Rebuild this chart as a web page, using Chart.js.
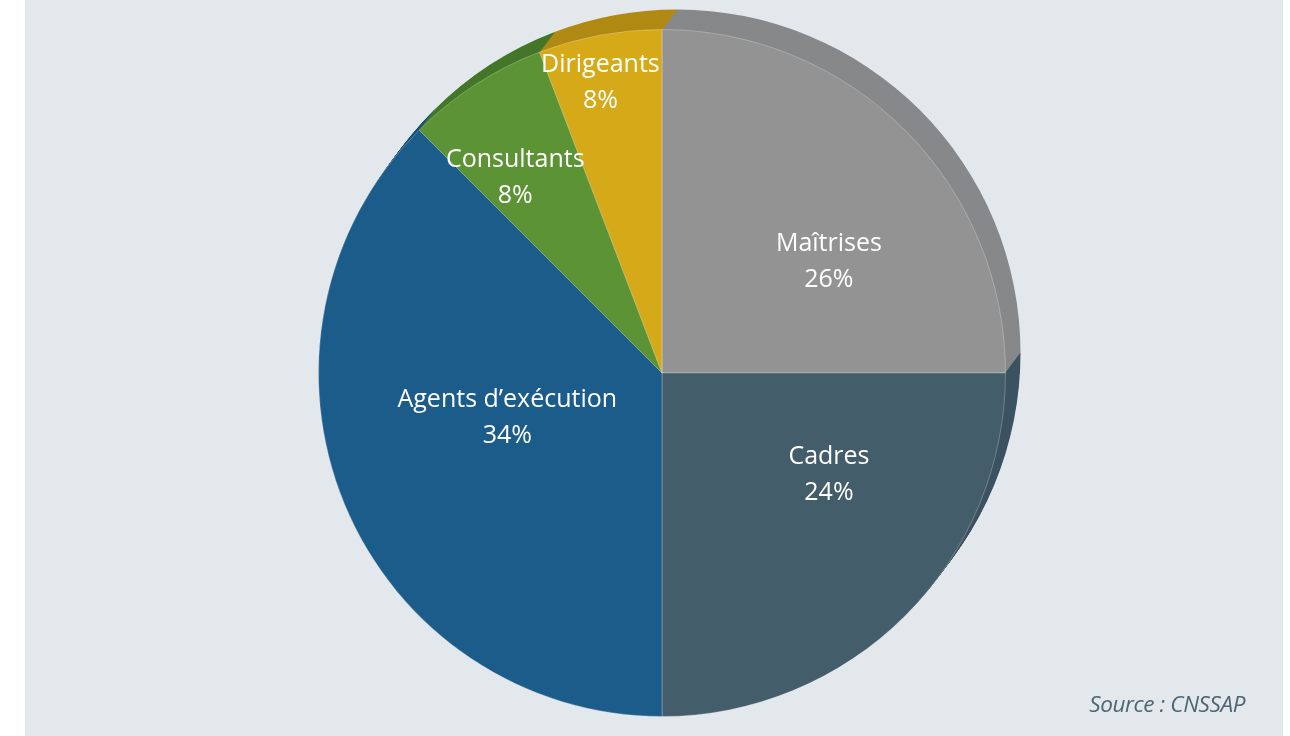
<!DOCTYPE html>
<html>
<head>
<meta charset="utf-8">
<script src="https://cdn.jsdelivr.net/npm/chart.js@4"></script>
<style>
  body { margin: 0; background: #ffffff; }
  #panel { position: absolute; left: 25px; top: 0; width: 1258px; height: 736px; background: #e2e8eb; }
  #wrap { position: absolute; left: 0; top: 0; width: 1290px; height: 736px; }
  #source { position: absolute; right: 45px; top: 688px; font-family: "Open Sans", sans-serif; font-style: italic;
            font-size: 22.5px; color: #4e6574; letter-spacing: -0.4px; }
</style>
</head>
<body>
<div id="panel"></div>
<div id="wrap"><canvas id="pieChart" width="1290" height="736"></canvas></div>
<div id="source">Source : CNSSAP</div>
<script>
// categories, clockwise from 12 o'clock
const categories = ["Maîtrises", "Cadres", "Agents d’exécution", "Consultants", "Dirigeants"]
// slice sizes as drawn in the picture
const sliceValues = [25, 25, 37.5, 6.7, 5.8]
// percentages printed on the slices
const pctLabels = ["26%", "24%", "34%", "8%", "8%"]
const colors = ["#939394", "#445d6a", "#1c5c8a", "#5b9335", "#d6a918"]
const rimColors = ["#87888a", "#3c5360", "#17507a", "#44772a", "#b08a14"]

// label placement: angle (deg clockwise from top) and fraction of radius
const labelAngle = [56.3, 121.5, 253.8, 323, 348]
const labelRadius = [0.584, 0.57, 0.469, 0.71, 0.862]

const rimPlugin = {
    id: 'rim',
    beforeDatasetsDraw(chart){
        const ctx = chart.ctx
        const meta = chart.getDatasetMeta(0)
        const dx = 15, dy = -20, steps = 20
        for (let s = steps; s >= 1; s--) {
            meta.data.forEach((arc, i) => {
                const p = arc.getProps(['x', 'y', 'startAngle', 'endAngle', 'outerRadius'], true)
                const ox = p.x + dx * s / steps
                const oy = p.y + dy * s / steps
                ctx.save()
                ctx.beginPath()
                ctx.moveTo(ox, oy)
                ctx.arc(ox, oy, p.outerRadius, p.startAngle, p.endAngle)
                ctx.closePath()
                ctx.fillStyle = rimColors[i]
                ctx.fill()
                ctx.restore()
            })
        }
    },
    afterDatasetsDraw(chart){
        const ctx = chart.ctx
        const meta = chart.getDatasetMeta(0)
        ctx.save()
        ctx.fillStyle = '#ffffff'
        ctx.font = '25px "Open Sans", sans-serif'
        ctx.textAlign = 'center'
        ctx.textBaseline = 'middle'
        meta.data.forEach((arc, i) => {
            const p = arc.getProps(['x', 'y', 'outerRadius'], true)
            const a = labelAngle[i] * Math.PI / 180
            const r = p.outerRadius * labelRadius[i]
            const cx = p.x + r * Math.sin(a)
            const cy = p.y - r * Math.cos(a)
            ctx.fillText(categories[i], cx, cy - 18)
            ctx.fillText(pctLabels[i], cx, cy + 18)
        })
        ctx.restore()
    }
}

const pieCtx = document.getElementById('pieChart').getContext('2d')
const pieChart = new Chart(pieCtx, {
    type: 'pie',
    data: {
        labels: categories,
        datasets: [{
            data: sliceValues,
            backgroundColor: colors,
            borderColor: 'rgba(255,255,255,0.25)',
            borderWidth: 1
        }]
    },
    options: {
        responsive: false,
        animation: false,
        layout: { padding: { top: 29, bottom: 19, left: 34, right: 0 } },
        plugins: {
            legend: { display: false },
            tooltip: { enabled: false }
        }
    },
    plugins: [rimPlugin]
})
</script>
</body>
</html>
